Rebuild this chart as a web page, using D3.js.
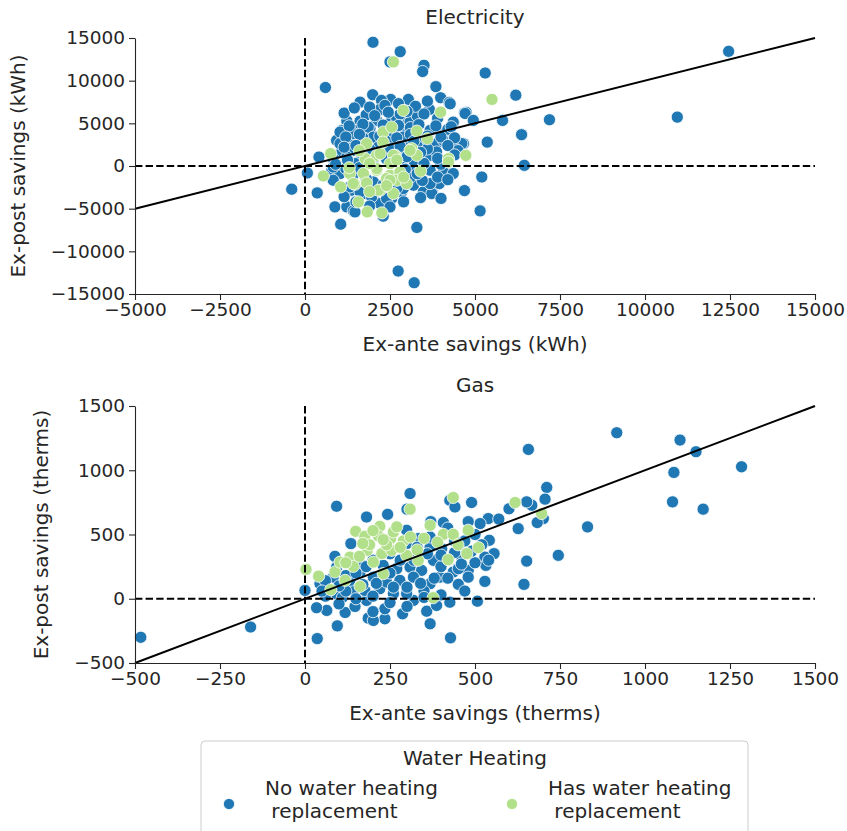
<!DOCTYPE html>
<html>
<head>
<meta charset="utf-8">
<title>Ex-ante vs ex-post savings</title>
<script src="https://cdn.jsdelivr.net/npm/d3@7"></script>
<style>
  body, html { margin: 0; padding: 0; background: #fff; }
  svg text { font-family: "DejaVu Sans", sans-serif; fill: #262626; }
  .axis path, .axis line { stroke: #262626; stroke-width: 1.1; }
  .axis text { font-size: 18.5px; }
</style>
</head>
<body>
<svg id="chart" width="847" height="831"></svg>
<script>
// ---- data ----
var elecNo = [
  [2000,14500],[2800,13400],[2500,12200],[3500,11800],[3460,11070],[600,9200],[5300,10900],[6200,8300],
  [3850,9300],[3990,8000],[4240,7450],[1620,7480],[1990,8350],[2520,7800],[3040,7800],[2250,7680],
  [3660,6630],[4690,6240],[5810,5340],[6370,3670],[5360,2800],[6450,80],[5200,-1290],[4690,-2880],
  [5150,-5260],[3290,-7200],[2740,-12310],[3210,-13680],[1050,-6820],[880,-4790],[1230,-4790],[-390,-2720],
  [360,-3150],[70,-820],[410,1050],[3480,-3040],[3750,-3150],[3950,-1990],[4120,-700],[2300,-5880],
  [1420,-5260],[12460,13440],[10950,5730],[7190,5420],[4740,6280],[4660,2620],[4270,7290],
  [1230,5260],[1620,5260],[2110,5340],[2550,5420],[2990,5340],[4710,6150],[4360,5140],[4950,5340],
  [1080,4170],[1470,4170],[1910,4370],[2840,4170],[3680,4170],[4070,3790],[4610,2620],[4270,2800],
  [930,3000],[1320,2620],[2210,2420],[2700,2620],[3090,2620],[3480,2420],[3870,2620],[3680,1250],
  [1080,1640],[1420,1830],[2890,1830],[790,-500],[1030,-890],[3190,-500],[3680,-500],[4310,-890],
  [1370,-2840],[1720,-3230],[2010,-3620],[2840,-3040],[3730,-3230],[3950,-2060],[3680,-2060],[1470,-5380],
  [2550,-3800],[2210,-4400],[2700,5540],[3090,5140],[1030,3975],[1420,3790],[1860,4560],[2010,3390],
  [2400,3790],[2890,3390],[3380,3000],[4070,3000],[4360,2220],[1030,2620],[1320,2030],[1620,2620],
  [2160,2220],[3380,1830],[3870,1640],[830,860],[1230,1050],[3190,670],[830,-120],[4070,-700],
  [4360,-890],[1320,-2450],[1620,-3040],[1960,-3620],[2400,-3810],[2890,-2640],[3190,-2250],[2010,-1870],
  [830,-1670],[2500,3000],[2300,1500],[1800,1000],[2900,800],[3300,2300],[1700,3300],[2600,4000],
  [3100,4500],[1500,300],[3500,300],[4000,200],[2000,600],[1200,-300],[4500,1800],[4200,4300],
  [3900,5600],[2800,6100],[2200,6600],[1800,6000],[3300,5900],
  [1150,6200],[1450,6800],[1900,6900],[2350,7100],[2750,7300],[3250,7000],[3600,7600],[2050,5900],
  [2450,6300],[3000,6400],[3500,6100],[1300,4700],[1700,4900],[2300,4800],[2750,4750],[3350,4850],
  [3850,4700],[4300,4600],[1200,3400],[1600,3700],[2200,3500],[2700,3300],[3100,3700],[3600,3500],
  [4000,3400],[4400,3300],[1150,2200],[1500,2400],[1900,2000],[2500,2000],[2800,2300],[3200,2900],
  [3600,2000],[4200,2400],[1250,700],[1650,1500],[2400,800],[3000,1100],[3400,1600],[3900,900],
  [4400,1300],[900,200],[1400,-1200],[1800,-1500],[2300,-2200],[2700,-2600],[3100,-1300],[3450,-1700],
  [3900,-1300],[4200,-1600],[1150,-3600],[1500,-4200],[1900,-4700],[2500,-4800],[2900,-4200],[3400,-3700],
  [4000,-3800],[3300,-900],[2950,-400],[1600,-200]
];
var elecHas = [
  [2600,12200],[5500,7800],[755,1450],[540,-1170],[1050,-2450],[1830,-5380],[2260,-5500],[1570,-4210],
  [4730,1250],[4220,750],[2890,6510],[3990,6310],[2300,3980],[2550,4560],[3290,4090],[1810,2620],
  [1770,860],[2110,1250],[2650,1250],[3140,2030],[3290,1250],[4220,860],[4220,470],[1320,-890],
  [1720,-890],[2110,-500],[2500,-1090],[2790,-700],[1470,-2140],[1810,-1990],[2210,-2840],[2400,-1480],
  [2700,-1670],[2990,-2060],[2600,-3230],[2210,1450],[2600,1250],[3090,1830],[1420,-2060],[2110,-300],
  [2500,280],[2160,-2840],[2500,-1670],
  [1600,1800],[1900,300],[2300,2800],[2900,-1300],[2400,-2300],[1900,-3000],[3600,3200],[2700,700],
  [1300,-200],[3400,-600]
];
var gasNo = [
  [-483,-300],[-160,-220],[36,-310],[95,-211],[0,65],[88,330],[93,720],[181,636],[243,657],[309,819],
  [300,697],[135,429],[426,767],[441,714],[490,749],[657,1162],[627,546],[652,293],[644,112],[539,624],
  [515,585],[542,455],[556,351],[529,324],[532,260],[529,135],[507,-19],[451,112],[426,-27],[428,-304],
  [368,-195],[358,-97],[387,-52],[287,-117],[235,-156],[186,-151],[201,-169],[118,-107],[64,-91],[34,-70],
  [147,-60],[181,-13],[235,-78],[319,-13],[299,39],[260,39],[220,78],[142,65],[93,39],[44,117],
  [83,168],[162,208],[201,168],[240,130],[279,143],[270,234],[309,246],[343,221],[378,299],[397,168],
  [436,208],[480,221],[480,168],[451,403],[402,390],[368,403],[333,468],[368,481],[407,593],[260,519],
  [299,533],[93,246],[132,143],[176,65],[368,117],[319,168],[451,234],
  [917,1292],[1103,1235],[1150,1144],[1085,983],[1284,1027],[1081,754],[1171,697],[831,559],[745,338],
  [711,866],[706,775],[667,728],[652,754],[701,624],[683,593],
  [200,300],[250,350],[330,330],[420,300],[460,330],[160,280],[120,180],[60,20],[110,10],[200,20],
  [350,60],[400,250],[300,430],[470,450],[500,500],
  [120,60],[170,110],[210,120],[260,90],[300,90],[340,120],[380,160],[420,160],[460,270],[500,280],
  [540,300],[180,250],[230,260],[280,300],[320,300],[360,350],[400,340],[440,360],[490,370],[520,420],
  [150,200],[60,140],[100,100],[250,-30],[300,-60],[350,10],[400,30],[470,60],[200,-100],[150,0],
  [100,-40],[50,60],[250,200],[330,400],[440,450],[480,600],[420,550],[370,600],[600,700],[570,620]
];
var gasHas = [
  [3,229],[40,176],[88,208],[149,525],[176,486],[220,564],[216,488],[252,468],[289,449],[183,377],
  [226,351],[255,377],[299,338],[132,324],[103,285],[142,252],[201,285],[162,96],[118,143],[230,195],
  [333,299],[368,572],[407,501],[436,501],[421,304],[476,351],[510,398],[480,533],[436,788],[618,749],
  [377,8],[76,70],[309,697],[696,663],
  [190,420],[240,420],[280,400],[310,480],[260,520],[200,530],[170,430],[120,280],[160,330],[330,380],
  [350,470],[270,560],[230,460],[450,420],[390,440]
];

var elecXTicks = [-5000,-2500,0,2500,5000,7500,10000,12500,15000];
var elecYTicks = [-15000,-10000,-5000,0,5000,10000,15000];
var gasXTicks = [-500,-250,0,250,500,750,1000,1250,1500];
var gasYTicks = [-500,0,500,1000,1500];

var seriesNames = ["No water heating\n replacement", "Has water heating\n replacement"];
var seriesColors = ["#1f78b4", "#b2df8a"];

// ---- drawing ----
var svg = d3.select("#chart");
var fmt = d3.format("d");

function panel(opts) {
  var x = d3.scaleLinear().domain(opts.xDomain).range([135, 815]);
  var y = d3.scaleLinear().domain(opts.yDomain).range(opts.yRange);
  var g = svg.append("g");

  // points
  [opts.no, opts.has].forEach(function (pts, i) {
    g.append("g").selectAll("circle")
      .data(pts)
      .enter().append("circle")
      .attr("cx", function (d) { return x(d[0]); })
      .attr("cy", function (d) { return y(d[1]); })
      .attr("r", 6.1)
      .attr("fill", seriesColors[i])
      .attr("stroke", "#fff")
      .attr("stroke-width", 0.8);
  });

  // reference lines
  g.append("line")
    .attr("x1", x(0)).attr("x2", x(0))
    .attr("y1", y(opts.yDomain[1])).attr("y2", y(opts.yDomain[0]))
    .attr("stroke", "#000").attr("stroke-width", 2).attr("stroke-dasharray", "7.4,3.2");
  g.append("line")
    .attr("x1", x(opts.xDomain[0])).attr("x2", x(opts.xDomain[1]))
    .attr("y1", y(0)).attr("y2", y(0))
    .attr("stroke", "#000").attr("stroke-width", 2).attr("stroke-dasharray", "7.4,3.2");
  g.append("line")
    .attr("x1", x(opts.xDomain[0])).attr("y1", y(opts.xDomain[0]))
    .attr("x2", x(opts.xDomain[1])).attr("y2", y(opts.xDomain[1]))
    .attr("stroke", "#000").attr("stroke-width", 2);

  // axes
  g.append("g").attr("class", "axis")
    .attr("transform", "translate(0," + opts.yRange[0] + ")")
    .call(d3.axisBottom(x).tickValues(opts.xTicks).tickFormat(fmt).tickSize(6).tickSizeOuter(0).tickPadding(3));
  g.append("g").attr("class", "axis")
    .attr("transform", "translate(135,0)")
    .call(d3.axisLeft(y).tickValues(opts.yTicks).tickFormat(fmt).tickSize(6).tickSizeOuter(0).tickPadding(4));

  // labels
  g.append("text")
    .attr("x", 475).attr("y", opts.titleY)
    .attr("text-anchor", "middle").style("font-size", "20px")
    .text(opts.title);
  g.append("text")
    .attr("x", 475).attr("y", opts.yRange[0] + 57)
    .attr("text-anchor", "middle").style("font-size", "20px")
    .text(opts.xLabel);
  var ly = (opts.yRange[0] + opts.yRange[1]) / 2;
  g.append("text")
    .attr("transform", "translate(" + opts.yLabelX + "," + ly + ") rotate(-90)")
    .attr("text-anchor", "middle").style("font-size", "20px")
    .text(opts.yLabel);
}

panel({
  title: "Electricity", titleY: 24,
  xDomain: [-5000, 15000], yDomain: [-15000, 15000], yRange: [294, 38],
  xTicks: elecXTicks, yTicks: elecYTicks,
  no: elecNo, has: elecHas, yLabelX: 25,
  xLabel: "Ex-ante savings (kWh)", yLabel: "Ex-post savings (kWh)"
});

panel({
  title: "Gas", titleY: 392,
  xDomain: [-500, 1500], yDomain: [-500, 1500], yRange: [663, 406],
  xTicks: gasXTicks, yTicks: gasYTicks,
  no: gasNo, has: gasHas, yLabelX: 48,
  xLabel: "Ex-ante savings (therms)", yLabel: "Ex-post savings (therms)"
});

// legend
var lg = svg.append("g");
lg.append("rect")
  .attr("x", 201).attr("y", 741).attr("width", 547).attr("height", 100)
  .attr("rx", 4).attr("fill", "#fff").attr("stroke", "#cccccc").attr("stroke-width", 1);
lg.append("text")
  .attr("x", 475).attr("y", 765)
  .attr("text-anchor", "middle").style("font-size", "20px")
  .text("Water Heating");
var entryX = [229, 512];
seriesNames.forEach(function (name, i) {
  lg.append("circle")
    .attr("cx", entryX[i]).attr("cy", 804).attr("r", 5.6)
    .attr("fill", seriesColors[i]).attr("stroke", "#fff").attr("stroke-width", 0.8);
  var t = lg.append("text")
    .attr("x", entryX[i] + 36).attr("y", 795)
    .style("font-size", "20px");
  name.split("\n").forEach(function (line, k) {
    t.append("tspan")
      .attr("x", entryX[i] + 36).attr("dy", k === 0 ? 0 : 23)
      .style("white-space", "pre")
      .text(line);
  });
});
</script>
</body>
</html>
